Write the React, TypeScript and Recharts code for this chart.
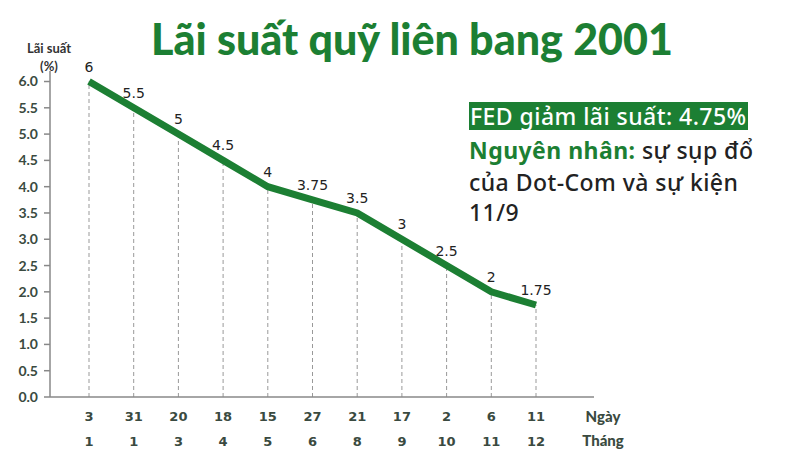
import { LineChart, Line, XAxis, YAxis, LabelList, ReferenceLine } from "recharts";

const days = ["3", "31", "20", "18", "15", "27", "21", "17", "2", "6", "11"];
const months = ["1", "1", "3", "4", "5", "6", "8", "9", "10", "11", "12"];
const rates = [6, 5.5, 5, 4.5, 4, 3.75, 3.5, 3, 2.5, 2, 1.75];
const yTicks = [0, 0.5, 1, 1.5, 2, 2.5, 3, 3.5, 4, 4.5, 5, 5.5, 6];

const data = days.map((d, i) => ({
    date: `${d}/${months[i]}`,
    rate: rates[i],
}));

const green = "#1c7f33";
const tickColor = "#3a4a40";

function DateTick(props: any) {
    const { x, y, payload } = props;
    const [d, m] = String(payload.value).split("/");
    return (
        <g>
            <text x={x} y={y + 24} textAnchor="middle" fontFamily="DejaVu Sans" fontWeight="bold" fontSize={13} fill={tickColor}>
                {d}
            </text>
            <text x={x} y={y + 49} textAnchor="middle" fontFamily="DejaVu Sans" fontWeight="bold" fontSize={13} fill={tickColor}>
                {m}
            </text>
        </g>
    );
}

export default function App() {
    return (
        <div style={{ position: "absolute", left: 0, top: 0, width: 800, height: 450, background: "#fff", fontFamily: "Lato, sans-serif" }}>
            <div style={{ position: "absolute", left: 0, top: 12, width: 824, textAlign: "center", fontFamily: "Lato", fontWeight: 900, fontSize: 43, color: green, lineHeight: "54px" }}>
                Lãi suất quỹ liên bang 2001
            </div>
            <div style={{ position: "absolute", left: 0, top: 39, width: 98, textAlign: "center", fontFamily: "Lato", fontWeight: 700, fontSize: 13, color: "#333", lineHeight: "18px" }}>
                Lãi suất
                <br />
                (%)
            </div>
            <LineChart width={800} height={450} data={data} margin={{ top: 71, right: 206, bottom: 0, left: 0 }}>
                {data.map((p) => (
                    <ReferenceLine
                        key={p.date}
                        segment={[{ x: p.date, y: 0 }, { x: p.date, y: p.rate }]}
                        stroke="#999"
                        strokeDasharray="4 3"
                        strokeWidth={1}
                    />
                ))}
                <XAxis
                    dataKey="date"
                    height={53}
                    padding={{ left: 39, right: 58 }}
                    tickLine={false}
                    tickSize={0}
                    tickMargin={0}
                    stroke="#888"
                    strokeWidth={1.5}
                    interval={0}
                    tick={<DateTick />}
                />
                <YAxis
                    width={50}
                    domain={[0, 6.2]}
                    ticks={yTicks}
                    interval={0}
                    stroke="#888"
                    strokeWidth={1.5}
                    tickSize={6}
                    tickMargin={6}
                    tickFormatter={(v: number) => v.toFixed(1)}
                    tick={{ fontFamily: "Lato", fontWeight: 700, fontSize: 14, fill: tickColor }}
                />
                <Line
                    type="linear"
                    dataKey="rate"
                    stroke={green}
                    strokeWidth={7}
                    dot={false}
                    activeDot={false}
                    isAnimationActive={false}
                >
                    <LabelList dataKey="rate" position="top" offset={10} fontFamily="DejaVu Sans" fontSize={14} fill="#222" />
                </Line>
            </LineChart>
            <div style={{ position: "absolute", left: 580, top: 404, width: 46, textAlign: "center", fontFamily: "Lato", fontWeight: 900, fontSize: 15, color: tickColor, lineHeight: "24px" }}>
                Ngày
                <br />
                Tháng
            </div>
            <div style={{ position: "absolute", left: 469, top: 100, fontFamily: "Noto Sans", fontWeight: 500, fontSize: 23, letterSpacing: 0.45, lineHeight: "32px", color: "#222" }}>
                <div style={{ display: "inline-block", background: green, color: "#fff", height: 28, lineHeight: "28px", padding: "0 1px" }}>FED giảm lãi suất: 4.75%</div>
                <div style={{ marginTop: 2 }}>
                    <span style={{ color: green, fontWeight: 700 }}>Nguyên nhân:</span> sự sụp đổ
                </div>
                <div>của Dot-Com và sự kiện</div>
                <div style={{ marginTop: -2 }}>11/9</div>
            </div>
        </div>
    );
}
